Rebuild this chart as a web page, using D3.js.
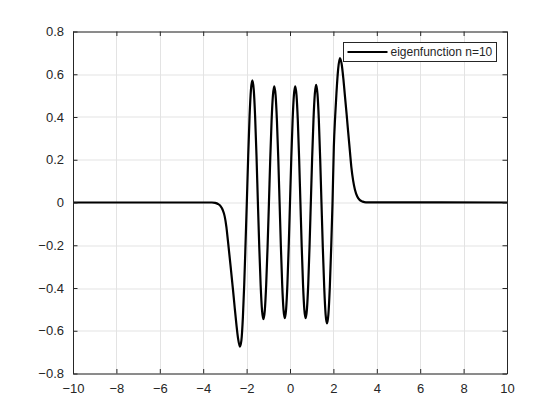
<!DOCTYPE html>
<html>
<head>
<meta charset="utf-8">
<script src="https://cdn.jsdelivr.net/npm/d3@7"></script>
<style>
  html, body { margin: 0; padding: 0; background: #ffffff; }
  svg { display: block; }
  text { font-family: "Liberation Sans", Arial, Helvetica, sans-serif; fill: #262626; }
</style>
</head>
<body>
<div id="chart"></div>
<script>
// ---- data ----
const seriesName = "eigenfunction n=10";
const xTicks = [-10, -8, -6, -4, -2, 0, 2, 4, 6, 8, 10];
const yTicks = [-0.8, -0.6, -0.4, -0.2, 0, 0.2, 0.4, 0.6, 0.8];
const xDomain = [-10, 10];
const yDomain = [-0.8, 0.8];

const xValues = [
  -10, -3.6, -3.45, -3.32, -3.2, -3.1, -3.01, -2.93, -2.86, -2.74, -2.63, -2.55, -2.47, -2.39, -2.31, -2.24, -2.17, -2.11, -2.06,
  -1.99, -1.926, -1.863, -1.799, -1.735, -1.671, -1.608, -1.544,
  -1.48, -1.416, -1.353, -1.289, -1.225, -1.161, -1.098, -1.034,
  -0.97, -0.909, -0.848, -0.786, -0.725, -0.664, -0.603, -0.541,
  -0.48, -0.42, -0.36, -0.30, -0.24, -0.18, -0.12, -0.06,
  0, 0.06, 0.12, 0.18, 0.24, 0.30, 0.36, 0.42,
  0.48, 0.54, 0.60, 0.66, 0.72, 0.78, 0.84, 0.90,
  0.96, 1.021, 1.083, 1.144, 1.205, 1.266, 1.328, 1.389,
  1.45, 1.514, 1.578, 1.641, 1.705, 1.769, 1.833, 1.896,
  1.96, 2.02, 2.08, 2.14, 2.22, 2.30, 2.38, 2.46, 2.53, 2.61, 2.68, 2.76, 2.83, 2.91, 2.99, 3.1, 3.22, 3.35, 3.5, 10
];
const yValues = [
  0, 0, -0.002, -0.007, -0.017, -0.035, -0.065, -0.115, -0.18, -0.295, -0.405, -0.49, -0.57, -0.638, -0.674, -0.645, -0.535, -0.385, -0.23,
  0, 0.219, 0.404, 0.528, 0.571, 0.528, 0.404, 0.219,
  0, -0.209, -0.386, -0.505, -0.546, -0.505, -0.386, -0.209,
  0, 0.208, 0.384, 0.502, 0.543, 0.502, 0.384, 0.208,
  0, -0.207, -0.383, -0.500, -0.541, -0.500, -0.383, -0.207,
  0, 0.208, 0.384, 0.502, 0.543, 0.502, 0.384, 0.208,
  0, -0.207, -0.383, -0.500, -0.541, -0.500, -0.383, -0.207,
  0, 0.210, 0.389, 0.508, 0.550, 0.508, 0.389, 0.210,
  0, -0.217, -0.400, -0.523, -0.566, -0.523, -0.400, -0.217,
  0, 0.26, 0.40, 0.51, 0.625, 0.676, 0.648, 0.578, 0.50, 0.412, 0.33, 0.24, 0.163, 0.102, 0.061, 0.028, 0.011, 0.004, 0.001, 0
];

// ---- layout ----
const W = 560, H = 420;
const margin = { left: 73, right: 53, top: 31.5, bottom: 46.5 };
const iw = W - margin.left - margin.right;
const ih = H - margin.top - margin.bottom;
const axisColor = "#262626";
const gridColor = "#e3e3e3";

const svg = d3.select("#chart").append("svg").attr("width", W).attr("height", H);
const g = svg.append("g").attr("transform", `translate(${margin.left},${margin.top})`);

const x = d3.scaleLinear().domain(xDomain).range([0, iw]);
const y = d3.scaleLinear().domain(yDomain).range([ih, 0]);

// grid
g.append("g").selectAll("line").data(xTicks).join("line")
  .attr("x1", d => Math.round(x(d)) + 0.5).attr("x2", d => Math.round(x(d)) + 0.5)
  .attr("y1", 0).attr("y2", ih)
  .attr("stroke", gridColor).attr("stroke-width", 1);
g.append("g").selectAll("line").data(yTicks).join("line")
  .attr("y1", d => Math.round(y(d)) + 0.5).attr("y2", d => Math.round(y(d)) + 0.5)
  .attr("x1", 0).attr("x2", iw)
  .attr("stroke", gridColor).attr("stroke-width", 1);

// data line
const data = xValues.map((v, i) => [v, yValues[i]]);
const line = d3.line().x(d => x(d[0])).y(d => y(d[1])).curve(d3.curveMonotoneX);
g.append("path").datum(data)
  .attr("d", line)
  .attr("fill", "none").attr("stroke", "#000000").attr("stroke-width", 2.2)
  .attr("stroke-linejoin", "round");

// axes with inward ticks
const tickLen = 4.5;
const xAxisB = d3.axisBottom(x).tickValues(xTicks).tickSizeInner(-tickLen).tickSizeOuter(0).tickPadding(10)
  .tickFormat(d3.format("d"));
const yAxisL = d3.axisLeft(y).tickValues(yTicks).tickSizeInner(-tickLen).tickSizeOuter(0).tickPadding(9)
  .tickFormat(d => d === 0 ? "0" : d3.format(".1f")(d));
const xAxisT = d3.axisTop(x).tickValues(xTicks).tickSizeInner(-tickLen).tickSizeOuter(0).tickFormat("");
const yAxisR = d3.axisRight(y).tickValues(yTicks).tickSizeInner(-tickLen).tickSizeOuter(0).tickFormat("");

function style(sel) {
  sel.select(".domain").attr("stroke", axisColor);
  sel.selectAll(".tick line").attr("stroke", axisColor);
  sel.selectAll(".tick text").attr("fill", axisColor)
    .style("font-size", "13px").style("font-family", "'Liberation Sans', Arial, sans-serif");
}
g.append("g").attr("transform", `translate(0,${ih})`).call(xAxisB).call(style);
g.append("g").call(yAxisL).call(style);
g.append("g").call(xAxisT).call(style);
g.append("g").attr("transform", `translate(${iw},0)`).call(yAxisR).call(style);

// legend
const lg = svg.append("g");
const lx = 343.5, ly = 42.5, lw = 153, lh = 19;
lg.append("rect").attr("x", lx).attr("y", ly).attr("width", lw).attr("height", lh)
  .attr("fill", "#ffffff").attr("stroke", axisColor).attr("stroke-width", 1);
lg.append("line").attr("x1", lx + 4).attr("x2", lx + 44).attr("y1", ly + 9.5).attr("y2", ly + 9.5)
  .attr("stroke", "#000000").attr("stroke-width", 2);
lg.append("text").attr("x", lx + 47).attr("y", ly + 9.5).attr("dy", "0.35em")
  .style("font-size", "12px").text(seriesName);
</script>
</body>
</html>
